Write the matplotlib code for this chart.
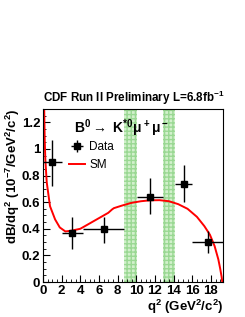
import numpy as np
import matplotlib
matplotlib.use('Agg')
import matplotlib.pyplot as plt

plt.rcParams['font.family'] = ['Liberation Sans', 'DejaVu Sans']
plt.rcParams['mathtext.fontset'] = 'custom'
plt.rcParams['mathtext.rm'] = 'Liberation Sans:bold'
plt.rcParams['mathtext.it'] = 'Liberation Sans:bold'
plt.rcParams['mathtext.bf'] = 'Liberation Sans:bold'

# measured points: bin edges and values
q2_lo = [0.0, 2.0, 4.3, 10.09, 14.18, 16.0]
q2_hi = [2.0, 4.3, 8.68, 12.86, 16.0, 19.3]
q2_c = [1.0, 3.15, 6.49, 11.475, 15.09, 17.65]
dbdq2 = [0.90, 0.37, 0.40, 0.64, 0.74, 0.30]
err_up = [0.17, 0.12, 0.09, 0.14, 0.14, 0.08]
err_dn = [0.18, 0.12, 0.11, 0.13, 0.14, 0.08]

# vetoed charmonium regions
veto = [(8.68, 10.09), (12.86, 14.18)]

# SM prediction
sm_q2 = [0.1, 0.13, 0.18, 0.25, 0.4, 0.75, 1.3, 1.8, 2.4, 3.0, 4.0, 5.0, 6.0, 7.0, 7.4,
         7.6, 8.5, 9.5, 10.5, 11.5, 12.5, 13.5, 14.5, 15.5, 16.5, 17.3, 17.9,
         18.4, 18.8, 19.0, 19.15, 19.22]
sm_val = [1.5, 1.3, 1.08, 0.92, 0.75, 0.57, 0.47, 0.41, 0.38, 0.385, 0.40, 0.44, 0.48,
          0.52, 0.545, 0.555, 0.575, 0.595, 0.607, 0.614, 0.615, 0.607, 0.585,
          0.55, 0.49, 0.42, 0.355, 0.27, 0.17, 0.10, 0.04, 0.0]

fig = plt.figure(figsize=(2.45, 3.17), dpi=100)
ax = fig.add_axes([0.1755, 0.1104, 0.7347, 0.5457])

for a, b in veto:
    ax.axvspan(a, b, facecolor='#d2f0cc', edgecolor='#9ad893', hatch='++++',
               linewidth=0, zorder=1)

ax.plot(sm_q2, sm_val, color='red', lw=1.4, zorder=2, label='SM')

xc = np.array(q2_c)
xerr = [xc - np.array(q2_lo), np.array(q2_hi) - xc]
ax.errorbar(xc, dbdq2, xerr=xerr, yerr=[err_dn, err_up], fmt='s', color='black',
            ms=4.5, lw=1, capsize=0, zorder=3, label='Data')

ax.set_xlim(0, 19.3)
ax.set_ylim(0, 1.3)
ax.set_xticks(np.arange(0, 19, 2))
ax.set_xticks(np.arange(0, 19.3, 0.5), minor=True)
ax.set_yticks(np.arange(0, 1.21, 0.2))
ax.set_yticklabels(['0', '0.2', '0.4', '0.6', '0.8', '1', '1.2'])
ax.set_yticks(np.arange(0, 1.3, 0.05), minor=True)
ax.tick_params(direction='in', which='both', labelsize=9.5, pad=2)
ax.tick_params(which='major', length=5)
ax.tick_params(which='minor', length=2.5)
for lab in ax.get_xticklabels() + ax.get_yticklabels():
    lab.set_fontweight('bold')
for s in ax.spines.values():
    s.set_linewidth(0.8)

ax.set_xlabel(r'q$^2$ (GeV$^2$/c$^2$)', fontsize=9.5, fontweight='bold',
              loc='right', labelpad=1)
ax.set_ylabel(r'dB/dq$^2$ (10$^{-7}$/GeV$^2$/c$^2$)', fontsize=9.5,
              fontweight='bold', loc='top', labelpad=0)

ax.text(0.0, 1.01, r'CDF Run II Preliminary L=6.8fb$^{-1}$', transform=ax.transAxes,
        fontsize=8.4, fontweight='bold', ha='left', va='bottom')
ax.text(0.17, 0.89, r'B$^0$$\rightarrow$ K$^{*0}$$\mu^+\mu^-$', transform=ax.transAxes,
        fontsize=10, fontweight='bold', ha='left', va='center')

handles, labels = ax.get_legend_handles_labels()
order = [labels.index('Data'), labels.index('SM')]
ax.legend([handles[i] for i in order], [labels[i] for i in order], loc='upper left',
          bbox_to_anchor=(0.12, 0.84), frameon=False, fontsize=8.5,
          handlelength=1.3, handletextpad=0.4, labelspacing=0.5, borderaxespad=0)

fig.savefig('out.png', dpi=100)
